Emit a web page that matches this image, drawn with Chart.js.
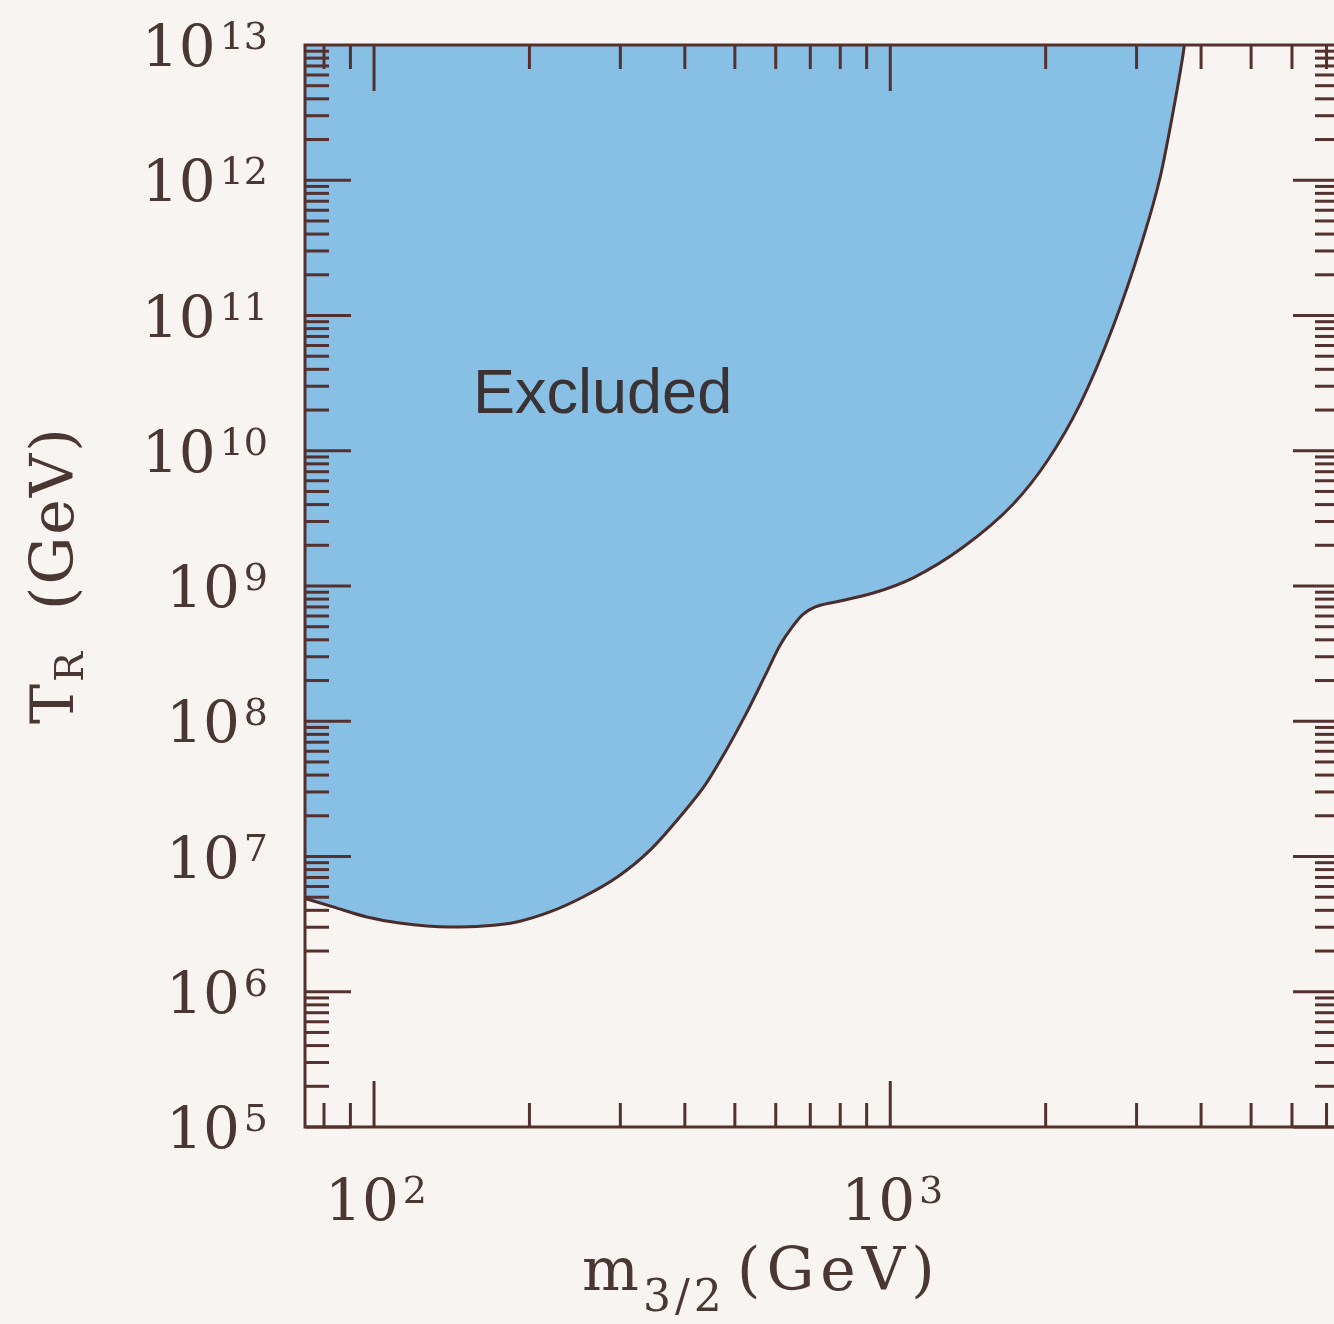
<!DOCTYPE html>
<html>
<head>
<meta charset="utf-8">
<script src="https://cdn.jsdelivr.net/npm/chart.js@4.4.1/dist/chart.umd.min.js"></script>
<style>
  html, body { margin: 0; padding: 0; background: #F8F4F1; overflow: hidden; width: 1334px; height: 1324px; }
  canvas { position: absolute; left: 0; top: 0; }
</style>
</head>
<body>
<canvas id="chart" width="1345" height="1324"></canvas>
<script>
// boundary of the excluded region
const gravitinoMass = [73.5, 83.3, 96.9, 112, 140, 163, 189, 219, 254, 296, 343, 397, 438, 479, 524, 573, 612, 646, 679, 716, 783, 927, 1108, 1385, 1731, 2014, 2333, 2704, 3051, 3336, 3533, 3680, 3713];
const reheatTemp = [4.9e6, 4.24e6, 3.57e6, 3.22e6, 3.01e6, 3.06e6, 3.28e6, 3.89e6, 5.02e6, 7.05e6, 1.12e7, 2.1e7, 3.38e7, 5.93e7, 1.11e8, 2.2e8, 3.66e8, 4.98e8, 6.21e8, 7.0e8, 7.62e8, 8.87e8, 1.15e9, 1.94e9, 4.04e9, 8.4e9, 2.22e10, 8.36e10, 3.2e11, 1.07e12, 3.25e12, 7.9e12, 1e13];

const xDecades = [2, 3];
const yDecades = [5, 6, 7, 8, 9, 10, 11, 12, 13];
const xMinorTicks = [80, 90, 100, 200, 300, 400, 500, 600, 700, 800, 900, 1000, 2000, 3000, 4000, 5000, 6000, 7000];
const regionLabel = 'Excluded';
const regionLabelAt = { m: 155.5, T: 1.9e10 };

const AXIS = '#54302f';
const TEXT = '#4a3734';
const SERIF = '"DejaVu Serif", serif';

function tickLine(ctx, x1, y1, x2, y2) {
  ctx.beginPath();
  ctx.moveTo(x1, y1);
  ctx.lineTo(x2, y2);
  ctx.stroke();
}

function powerLabel(ctx, exp, anchorX, tickY, align) {
  ctx.font = `58px ${SERIF}`;
  const base = ctx.measureText('10').width;
  ctx.font = `38px ${SERIF}`;
  const sup = ctx.measureText(String(exp)).width;
  const gap = 4;
  const total = base + gap + sup;
  let left = align === 'right' ? anchorX - total : anchorX - total / 2;
  ctx.textAlign = 'left';
  ctx.textBaseline = 'alphabetic';
  ctx.font = `58px ${SERIF}`;
  ctx.fillText('10', left, tickY + 21);
  ctx.font = `38px ${SERIF}`;
  ctx.fillText(String(exp), left + base + gap, tickY + 4);
}

const frame = {
  id: 'frame',
  beforeDraw(chart) {
    const ctx = chart.ctx;
    ctx.save();
    ctx.fillStyle = '#F8F4F1';
    ctx.fillRect(0, 0, chart.width, chart.height);
    ctx.restore();
  },
  afterDatasetsDraw(chart) {
    const { ctx, chartArea: a, scales: { x, y } } = chart;
    ctx.save();
    ctx.strokeStyle = AXIS;
    ctx.lineWidth = 3;
    ctx.strokeRect(a.left, a.top, a.right - a.left, a.bottom - a.top);

    // y ticks, both sides
    for (let e = 5; e < 13; e++) {
      for (let k = 1; k < 10; k++) {
        const py = y.getPixelForValue(k * Math.pow(10, e));
        const len = k === 1 ? 46 : 24;
        tickLine(ctx, a.left, py, a.left + len, py);
        tickLine(ctx, a.right, py, a.right - len, py);
      }
    }
    // x ticks, top and bottom
    xMinorTicks.forEach(v => {
      const px = x.getPixelForValue(v);
      const len = (v === 100 || v === 1000) ? 46 : 24;
      tickLine(ctx, px, a.bottom, px, a.bottom - len);
      tickLine(ctx, px, a.top, px, a.top + len);
    });

    // tick labels
    ctx.fillStyle = TEXT;
    yDecades.forEach(e => powerLabel(ctx, e, 268, y.getPixelForValue(Math.pow(10, e)), 'right'));
    xDecades.forEach(e => powerLabel(ctx, e, x.getPixelForValue(Math.pow(10, e)) + 2, 1199, 'center'));

    // x title: m_{3/2} (GeV)
    ctx.textAlign = 'left';
    ctx.textBaseline = 'alphabetic';
    ctx.font = `60px ${SERIF}`;
    ctx.fillText('m', 582, 1290);
    ctx.font = `44px ${SERIF}`;
    ctx.letterSpacing = '4px';
    ctx.fillText('3/2', 643, 1311);
    ctx.font = `60px ${SERIF}`;
    ctx.letterSpacing = '6px';
    ctx.fillText('(GeV)', 737, 1290);
    ctx.letterSpacing = '0px';

    // y title: T_R (GeV), rotated
    ctx.save();
    ctx.translate(73, 0);
    ctx.rotate(-Math.PI / 2);
    ctx.font = `60px ${SERIF}`;
    ctx.fillText('T', -724, 0);
    ctx.font = `40px ${SERIF}`;
    ctx.fillText('R', -682, 10);
    ctx.font = `60px ${SERIF}`;
    ctx.letterSpacing = '2px';
    ctx.fillText('(GeV)', -610, 0);
    ctx.restore();

    // region label
    ctx.font = '63px "Liberation Sans", Arial, sans-serif';
    ctx.fillStyle = '#3b3333';
    ctx.fillText(regionLabel, x.getPixelForValue(regionLabelAt.m), y.getPixelForValue(regionLabelAt.T));
    ctx.restore();
  }
};

new Chart(document.getElementById('chart').getContext('2d'), {
  type: 'line',
  data: {
    datasets: [{
      data: gravitinoMass.map((m, i) => ({ x: m, y: reheatTemp[i] })),
      borderColor: '#4b2c2b',
      borderWidth: 3,
      backgroundColor: '#88BFE5',
      fill: 'end',
      pointRadius: 0,
      cubicInterpolationMode: 'monotone'
    }]
  },
  options: {
    responsive: false,
    animation: false,
    layout: { padding: { left: 305, right: 6, top: 45, bottom: 197 } },
    plugins: { legend: { display: false }, tooltip: { enabled: false } },
    scales: {
      x: { type: 'logarithmic', min: 73.5, max: 7400, display: false },
      y: { type: 'logarithmic', min: 1e5, max: 1e13, display: false }
    }
  },
  plugins: [frame]
});
</script>
</body>
</html>
